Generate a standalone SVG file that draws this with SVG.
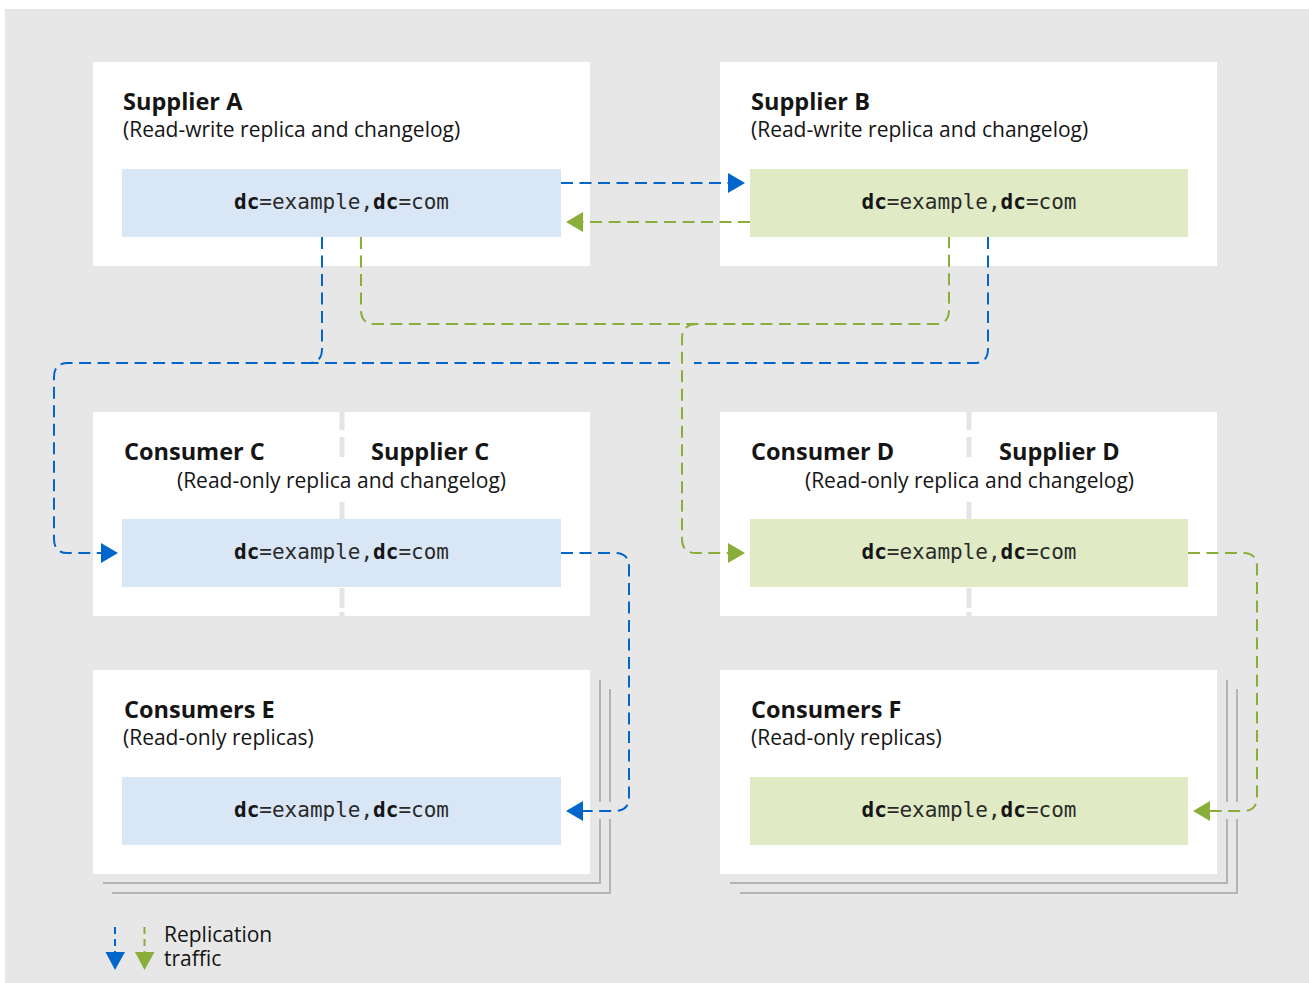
<svg xmlns="http://www.w3.org/2000/svg" width="1309" height="983" viewBox="0 0 1309 983">
  <style>
    .bg { fill: #e7e7e7; }
    .box { fill: #ffffff; }
    .blue { fill: #d9e6f5; }
    .green { fill: #e0eac4; }
    .title { font-family: "Open Sans", "Liberation Sans", sans-serif; font-weight: bold; font-size: 23.5px; fill: #151515; }
    .sub { font-family: "Open Sans", "Liberation Sans", sans-serif; font-size: 21px; fill: #151515; }
    .mono { font-family: "DejaVu Sans Mono", "Liberation Mono", monospace; font-size: 21px; fill: #2a2a2a; }
    .mono .b { font-weight: bold; fill: #151515; }
    .divider { stroke: #e4e4e4; stroke-width: 5; fill: none; }
    .stack { stroke: #b4b4b4; stroke-width: 2; fill: none; }
    .cb { stroke: #0066cc; stroke-width: 2; fill: none; stroke-dasharray: 12 6.5; }
    .cg { stroke: #8aae3a; stroke-width: 2; fill: none; stroke-dasharray: 12 6.5; }
    .legend { font-family: "Open Sans", "Liberation Sans", sans-serif; font-size: 21px; fill: #151515; }
  </style>
  <defs>
    <marker id="ab" markerUnits="userSpaceOnUse" markerWidth="17" markerHeight="20" refX="0" refY="10" orient="auto" overflow="visible">
      <path d="M0,0 L17,10 L0,20 Z" fill="#0066cc"/>
    </marker>
    <marker id="ag" markerUnits="userSpaceOnUse" markerWidth="17" markerHeight="20" refX="0" refY="10" orient="auto" overflow="visible">
      <path d="M0,0 L17,10 L0,20 Z" fill="#8aae3a"/>
    </marker>
  </defs>

  <rect class="bg" x="5" y="9" width="1304" height="974"/>

  <g id="stack-e">
    <polyline class="stack" points="103,883 600,883 600,819"/>
    <polyline class="stack" points="600,802 600,680"/>
    <polyline class="stack" points="112,893 610,893 610,819"/>
    <polyline class="stack" points="610,802 610,689"/>
  </g>
  <g id="stack-f">
    <polyline class="stack" points="730,883 1227,883 1227,819"/>
    <polyline class="stack" points="1227,802 1227,680"/>
    <polyline class="stack" points="740,893 1237,893 1237,819"/>
    <polyline class="stack" points="1237,802 1237,689"/>
  </g>

  <g id="supplier-a">
    <rect class="box" x="93" y="62" width="497" height="204"/>
    <text class="title" x="123" y="110">Supplier A</text>
    <text class="sub" x="123" y="137">(Read-write replica and changelog)</text>
    <rect class="blue" x="122" y="169" width="439" height="68"/>
    <text class="mono" x="341.5" y="209" text-anchor="middle"><tspan class="b">dc</tspan>=example,<tspan class="b">dc</tspan>=com</text>
  </g>

  <g id="supplier-b">
    <rect class="box" x="720" y="62" width="497" height="204"/>
    <text class="title" x="751" y="110">Supplier B</text>
    <text class="sub" x="751" y="137">(Read-write replica and changelog)</text>
    <rect class="green" x="750" y="169" width="438" height="68"/>
    <text class="mono" x="969" y="209" text-anchor="middle"><tspan class="b">dc</tspan>=example,<tspan class="b">dc</tspan>=com</text>
  </g>

  <g id="consumer-supplier-c">
    <rect class="box" x="93" y="412" width="497" height="204"/>
    <path class="divider" d="M342,412 V430 M342,437 V457 M342,502 V519 M342,588 V608 M342,612 V616"/>
    <text class="title" x="124" y="460">Consumer C</text>
    <text class="title" x="371" y="460">Supplier C</text>
    <text class="sub" x="341.5" y="488" text-anchor="middle">(Read-only replica and changelog)</text>
    <rect class="blue" x="122" y="519" width="439" height="68"/>
    <text class="mono" x="341.5" y="559" text-anchor="middle"><tspan class="b">dc</tspan>=example,<tspan class="b">dc</tspan>=com</text>
  </g>

  <g id="consumer-supplier-d">
    <rect class="box" x="720" y="412" width="497" height="204"/>
    <path class="divider" d="M969,412 V430 M969,437 V457 M969,502 V519 M969,588 V608 M969,612 V616"/>
    <text class="title" x="751" y="460">Consumer D</text>
    <text class="title" x="999" y="460">Supplier D</text>
    <text class="sub" x="969.5" y="488" text-anchor="middle">(Read-only replica and changelog)</text>
    <rect class="green" x="750" y="519" width="438" height="68"/>
    <text class="mono" x="969" y="559" text-anchor="middle"><tspan class="b">dc</tspan>=example,<tspan class="b">dc</tspan>=com</text>
  </g>

  <g id="consumers-e">
    <rect class="box" x="93" y="670" width="497" height="204"/>
    <text class="title" x="124" y="718">Consumers E</text>
    <text class="sub" x="123" y="745">(Read-only replicas)</text>
    <rect class="blue" x="122" y="777" width="439" height="68"/>
    <text class="mono" x="341.5" y="817" text-anchor="middle"><tspan class="b">dc</tspan>=example,<tspan class="b">dc</tspan>=com</text>
  </g>

  <g id="consumers-f">
    <rect class="box" x="720" y="670" width="497" height="204"/>
    <text class="title" x="751" y="718">Consumers F</text>
    <text class="sub" x="751" y="745">(Read-only replicas)</text>
    <rect class="green" x="750" y="777" width="438" height="68"/>
    <text class="mono" x="969" y="817" text-anchor="middle"><tspan class="b">dc</tspan>=example,<tspan class="b">dc</tspan>=com</text>
  </g>

  <g id="connectors">
    <path class="cb" d="M561,183 H728" marker-end="url(#ab)"/>
    <path class="cg" d="M750,222 H583" marker-end="url(#ag)"/>
    <path class="cb" d="M322,237 V349 Q322,363 308,363 H68 Q54,363 54,377 V539 Q54,553 68,553 H101" marker-end="url(#ab)"/>
    <path class="cb" d="M988,237 V349 Q988,363 974,363 H694"/>
    <path class="cb" d="M670,363 H309"/>
    <path class="cg" d="M361,237 V310 Q361,324 375,324 H935 Q949,324 949,310 V237"/>
    <path class="cg" d="M697,324 Q682,324 682,339 V539 Q682,553 696,553 H728" marker-end="url(#ag)"/>
    <path class="cb" d="M561,553 H615 Q629,553 629,567 V797 Q629,811 615,811 H583" marker-end="url(#ab)"/>
    <path class="cg" d="M1188,553 H1243 Q1257,553 1257,567 V797 Q1257,811 1243,811 H1210" marker-end="url(#ag)"/>
  </g>

  <g id="legend">
    <path class="cb" d="M115,927 V952" style="stroke-dasharray: 7 5"/>
    <polygon points="105.5,952 125,952 115,970" fill="#0066cc"/>
    <path class="cg" d="M144.5,927 V952" style="stroke-dasharray: 7 5"/>
    <polygon points="135,952 154.5,952 144.5,970" fill="#8aae3a"/>
    <text class="legend" x="164" y="942">Replication</text>
    <text class="legend" x="164" y="966">traffic</text>
  </g>
</svg>
